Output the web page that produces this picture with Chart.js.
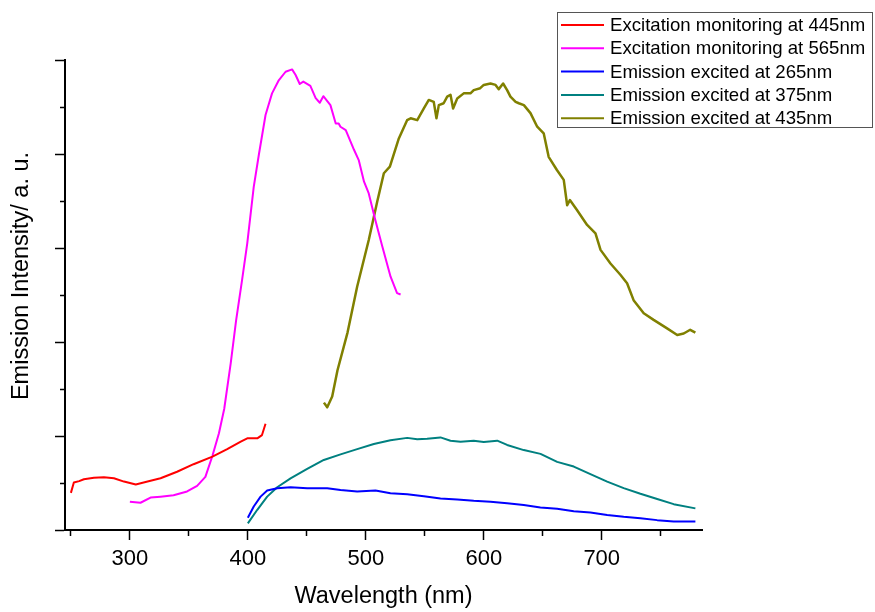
<!DOCTYPE html>
<html>
<head>
<meta charset="utf-8">
<script src="https://cdn.jsdelivr.net/npm/chart.js@4.4.1/dist/chart.umd.min.js"></script>
<style>
  body { margin: 0; background: #fff; }
</style>
</head>
<body>
<canvas id="spectra" width="875" height="612"></canvas>
<script>
// wavelength (nm) / intensity (a.u., 0-100) pairs
const exc445X = [250, 252.5, 257, 261, 269.5, 278, 286.5, 295, 305, 315, 326, 340, 354, 370, 382.5, 394, 399.5, 408, 412, 415];
const exc445Y = [7.9, 10.1, 10.4, 10.8, 11.1, 11.2, 11.0, 10.3, 9.7, 10.3, 11.0, 12.4, 14.0, 15.6, 17.2, 18.8, 19.5, 19.5, 20.2, 22.6];

const exc565X = [300, 309, 317.5, 326, 337, 348.5, 357, 364, 370, 375.5, 380, 385.5, 390, 395, 399.5, 405, 409.5, 415, 420.5, 426, 432, 437.5, 440.5, 444, 447, 453, 457.5, 461, 464, 470, 474.5, 477, 478.5, 483, 490, 494, 498.5, 502.5, 508, 514, 521, 526.5, 529.5];
const exc565Y = [6.0, 5.8, 6.9, 7.1, 7.4, 8.2, 9.4, 11.3, 15.8, 20.6, 25.8, 35.5, 44.5, 53.0, 61.0, 73.0, 80.1, 88.3, 92.9, 95.6, 97.5, 98.0, 96.8, 94.9, 95.4, 94.5, 91.9, 90.9, 92.3, 90.4, 86.5, 86.5, 85.8, 85.1, 80.9, 78.7, 74.1, 71.6, 66.0, 60.3, 53.9, 50.4, 50.1];

const em265X = [400, 405, 410.8, 416.4, 424.9, 436.2, 450.3, 467.3, 478.6, 492.7, 508.2, 520.9, 535.1, 549.2, 563.3, 577.5, 591.5, 605.7, 619.8, 633.9, 648, 662.2, 676.3, 690.4, 704.6, 718.6, 732.8, 747, 761, 779.4];
const em265Y = [2.6, 5.0, 7.1, 8.4, 8.9, 9.1, 8.9, 8.9, 8.5, 8.2, 8.4, 7.8, 7.6, 7.2, 6.7, 6.5, 6.2, 6.0, 5.7, 5.3, 4.8, 4.5, 4.0, 3.7, 3.2, 2.8, 2.5, 2.1, 1.8, 1.8];

const em375X = [400, 408, 416.4, 424.9, 436.2, 450.3, 464.4, 478.6, 492.7, 506.8, 520.9, 535.1, 543.6, 552, 563.3, 571.8, 580.3, 591.5, 600, 611.4, 619.8, 633.9, 648.1, 662.2, 676.3, 690.4, 704.6, 718.6, 732.8, 747, 761, 779.4];
const em375Y = [1.4, 4.3, 7.1, 9.1, 11.0, 13.0, 14.9, 16.1, 17.2, 18.3, 19.1, 19.6, 19.3, 19.4, 19.7, 19.0, 18.8, 19.0, 18.7, 19.0, 18.1, 17.0, 16.2, 14.5, 13.5, 11.9, 10.3, 8.9, 7.7, 6.6, 5.5, 4.6];

const em435X = [464.5, 467.3, 471.5, 476, 484.5, 492.7, 502.5, 509.7, 515.3, 520.4, 528, 535, 538, 543.6, 549.2, 553.4, 557.6, 559.9, 561.9, 566, 569, 571.8, 574, 577.5, 583, 588.7, 591.5, 597, 600, 605.7, 610, 612.7, 616.4, 619.8, 622.6, 627, 629.7, 634, 639.6, 645.3, 650.8, 655, 662, 667.8, 670.7, 673, 679, 687.6, 694.7, 699, 707.4, 715.8, 721.5, 727, 735.6, 744, 755.4, 764, 769.5, 775, 779.4];
const em435Y = [27.1, 26.1, 28.4, 34.0, 42.0, 51.8, 61.7, 69.9, 75.9, 77.3, 83.3, 87.2, 87.6, 87.2, 89.7, 91.5, 91.1, 87.6, 90.4, 90.8, 92.2, 92.6, 89.7, 91.8, 92.9, 92.9, 93.6, 94.0, 94.7, 95.0, 94.7, 93.8, 95.0, 93.6, 92.2, 91.1, 90.8, 90.4, 88.7, 85.8, 84.4, 79.4, 76.6, 74.5, 69.1, 70.2, 68.1, 64.9, 63.1, 59.6, 56.7, 54.3, 52.5, 48.9, 46.1, 44.7, 42.9, 41.5, 41.8, 42.6, 42.0];

const labels = [
  'Excitation monitoring at 445nm',
  'Excitation monitoring at 565nm',
  'Emission excited at 265nm',
  'Emission excited at 375nm',
  'Emission excited at 435nm'
];
const colors = ['#ff0000', '#ff00ff', '#0000ff', '#008080', '#808000'];

const xTicks = [250, 300, 350, 400, 450, 500, 550, 600, 650, 700, 750];
const yTicks = [0, 10, 20, 30, 40, 50, 60, 70, 80, 90, 100];

const FONT = '"Liberation Sans", Arial, sans-serif';

function points(xs, ys) {
    return xs.map((x, i) => ({ x: x, y: ys[i] }));
}

// legend box drawn in the upper right, overlapping the plot like the original
const boxLegend = {
    id: 'boxLegend',
    afterDraw(chart) {
        const ctx = chart.ctx;
        ctx.save();
        ctx.fillStyle = '#fff';
        ctx.fillRect(557, 12, 316, 116);
        ctx.strokeStyle = '#555';
        ctx.lineWidth = 1;
        ctx.strokeRect(557.5, 12.5, 315, 115);
        ctx.font = '18.6px ' + FONT;
        ctx.textBaseline = 'middle';
        ctx.fillStyle = '#000';
        chart.data.datasets.forEach((ds, i) => {
            const y = 25 + i * 23.3;
            ctx.strokeStyle = ds.borderColor;
            ctx.lineWidth = 2;
            ctx.beginPath();
            ctx.moveTo(561, y);
            ctx.lineTo(604, y);
            ctx.stroke();
            ctx.fillText(ds.label, 610, y + 1);
        });
        ctx.restore();
    }
};

// y title sits a bit above the axis centre in the original
const yTitle = {
    id: 'yTitle',
    afterDraw(chart) {
        const ctx = chart.ctx;
        ctx.save();
        ctx.translate(22, 276);
        ctx.rotate(-Math.PI / 2);
        ctx.font = '23.5px ' + FONT;
        ctx.textAlign = 'center';
        ctx.textBaseline = 'middle';
        ctx.fillStyle = '#000';
        ctx.fillText('Emission Intensity/ a. u.', 0, 0);
        ctx.restore();
    }
};

const series = [
    [exc445X, exc445Y, 2],
    [exc565X, exc565Y, 2],
    [em265X, em265Y, 2],
    [em375X, em375Y, 2],
    [em435X, em435Y, 2.5]
];

new Chart(document.getElementById('spectra').getContext('2d'), {
    type: 'line',
    data: {
        datasets: series.map((s, i) => ({
            label: labels[i],
            data: points(s[0], s[1]),
            borderColor: colors[i],
            borderWidth: s[2],
            fill: false
        }))
    },
    options: {
        responsive: false,
        animation: false,
        layout: { padding: { top: 60, right: 173, left: 0, bottom: 0 } },
        plugins: {
            legend: { display: false },
            tooltip: { enabled: false }
        },
        elements: {
            point: { radius: 0 },
            line: { tension: 0, borderJoinStyle: 'round' }
        },
        scales: {
            x: {
                type: 'linear',
                min: 245,
                max: 785,
                afterBuildTicks: s => { s.ticks = xTicks.map(v => ({ value: v })); },
                afterFit: s => { s.height = 82; },
                border: { color: '#000', width: 2 },
                grid: {
                    drawOnChartArea: false,
                    tickLength: 10,
                    tickColor: '#000',
                    tickWidth: 1.5,
                    tickBorderDash: c => (c.tick && c.tick.value % 100 !== 0) ? [5, 100] : []
                },
                ticks: {
                    color: '#000',
                    autoSkip: false,
                    maxRotation: 0,
                    padding: 6,
                    font: { family: FONT, size: 22 },
                    callback: v => (v % 100 === 0 ? v : '')
                },
                title: {
                    display: true,
                    text: 'Wavelength (nm)',
                    color: '#000',
                    font: { family: FONT, size: 23.5 },
                    padding: { top: 0, bottom: 1 }
                }
            },
            y: {
                min: 0,
                max: 100,
                afterBuildTicks: s => { s.ticks = yTicks.map(v => ({ value: v })); },
                afterFit: s => { s.width = 65; },
                border: { color: '#000', width: 2 },
                grid: {
                    drawOnChartArea: false,
                    tickLength: 10,
                    tickColor: '#000',
                    tickWidth: 1.5,
                    tickBorderDash: c => (c.tick && c.tick.value % 20 !== 0) ? [0, 5, 5, 100] : []
                },
                ticks: { display: false }
            }
        }
    },
    plugins: [boxLegend, yTitle]
});
</script>
</body>
</html>
